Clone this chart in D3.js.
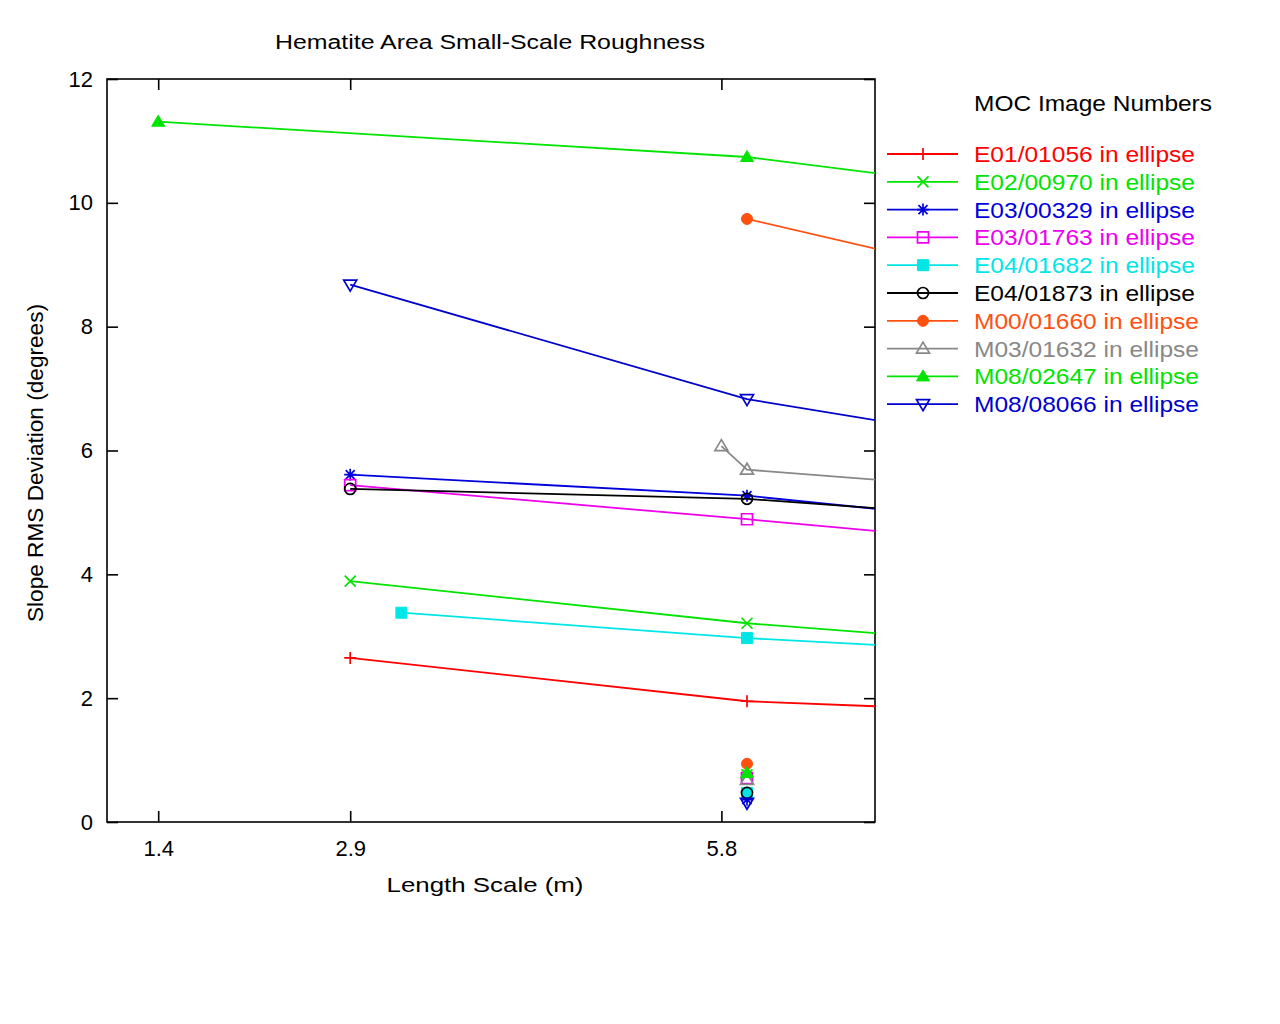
<!DOCTYPE html>
<html><head><meta charset="utf-8">
<script src="https://cdn.jsdelivr.net/npm/d3@7"></script>
<style>body{margin:0;background:#fff}svg{display:block}</style>
</head><body>
<svg id="c" width="1280" height="1024"></svg>
<script>
// ---- data ----
const chartTitle = "Hematite Area Small-Scale Roughness";
const xLabel = "Length Scale (m)";
const yLabel = "Slope RMS Deviation (degrees)";
const legendTitle = "MOC Image Numbers";
const xTicks = [1.4, 2.9, 5.8];
const yTicks = [0, 2, 4, 6, 8, 10, 12];

const seriesNames = ["E01/01056 in ellipse","E02/00970 in ellipse","E03/00329 in ellipse","E03/01763 in ellipse","E04/01682 in ellipse","E04/01873 in ellipse","M00/01660 in ellipse","M03/01632 in ellipse","M08/02647 in ellipse","M08/08066 in ellipse"];
const seriesColors = ["#ff0000","#00e400","#0000dd","#ee00ee","#00e6e6","#000000","#ff5010","#888888","#00e400","#0000cc"];
const seriesSymbols = ["plus","cross","star","square","squareFilled","circle","circleFilled","triangle","triangleFilled","triangleDown"];

// line series (length scale in m, slope RMS in degrees); last point lies beyond the plotted range
const e01_01056_x = [2.9, 6.0, 11.6], e01_01056_y = [2.65, 1.95, 1.50];
const e02_00970_x = [2.9, 6.0, 11.6], e02_00970_y = [3.89, 3.21, 2.31];
const e03_00329_x = [2.9, 6.0, 11.6], e03_00329_y = [5.61, 5.27, 4.09];
const e03_01763_x = [2.9, 6.0, 11.6], e03_01763_y = [5.44, 4.89, 3.83];
const e04_01682_x = [3.3, 6.0, 11.6], e04_01682_y = [3.38, 2.97, 2.35];
const e04_01873_x = [2.9, 6.0, 11.6], e04_01873_y = [5.38, 5.22, 4.38];
const m00_01660_x = [6.0, 11.6],      m00_01660_y = [9.74, 7.05];
const m03_01632_x = [5.8, 6.0, 11.6], m03_01632_y = [6.07, 5.69, 4.79];
const m08_02647_x = [1.4, 6.0, 11.6], m08_02647_y = [11.31, 10.74, 9.28];
const m08_08066_x = [2.9, 6.0, 11.6], m08_08066_y = [8.68, 6.83, 4.93];

// isolated points near the bottom (one per series, null = none)
const isolatedX = 6.0;
const isolatedY = [null, 0.76, 0.36, 0.71, 0.47, 0.47, 0.94, 0.68, 0.79, 0.31];

const seriesX = [e01_01056_x,e02_00970_x,e03_00329_x,e03_01763_x,e04_01682_x,e04_01873_x,m00_01660_x,m03_01632_x,m08_02647_x,m08_08066_x];
const seriesY = [e01_01056_y,e02_00970_y,e03_00329_y,e03_01763_y,e04_01682_y,e04_01873_y,m00_01660_y,m03_01632_y,m08_02647_y,m08_08066_y];

// ---- layout ----
const L = 107, R = 875, T = 79, B = 822;
const FONT = "'Liberation Sans', Arial, Helvetica, sans-serif";
const svg = d3.select("#c").style("font-family", FONT);
const x = d3.scaleLinear().domain([1, 7]).range([L, R]);
const y = d3.scaleLinear().domain([0, 12]).range([B, T]);

svg.append("defs").append("clipPath").attr("id","plot")
  .append("rect").attr("x",L).attr("y",T).attr("width",R-L).attr("height",B-T);

function symbolPath(type) {
  switch (type) {
    case "plus": return "M-6,0H6M0,-6V6";
    case "cross": return "M-5.5,-5.5L5.5,5.5M-5.5,5.5L5.5,-5.5";
    case "star": return "M-6,0H6M0,-6V6M-4.5,-4.5L4.5,4.5M-4.5,4.5L4.5,-4.5";
    case "square": case "squareFilled": return "M-5.5,-5.5H5.5V5.5H-5.5Z";
    case "circle": case "circleFilled": return "M5.5,0A5.5,5.5 0 1,1 -5.5,0A5.5,5.5 0 1,1 5.5,0Z";
    case "triangle": case "triangleFilled": return "M0,-6.5L6.5,4.5L-6.5,4.5Z";
    case "triangleDown": return "M0,6.5L6.5,-4.5L-6.5,-4.5Z";
  }
}
function drawSymbol(g, type, color, cx, cy) {
  const filled = /Filled$/.test(type);
  g.append("path").attr("d", symbolPath(type))
    .attr("transform", `translate(${cx},${cy})`)
    .attr("fill", filled ? color : "none")
    .attr("stroke", color).attr("stroke-width", filled ? 1 : 1.7);
}

// axes (gnuplot-style inward ticks, mirrored)
const axL = svg.append("g").attr("transform",`translate(${L},0)`)
  .call(d3.axisLeft(y).tickValues(yTicks).tickSize(-11).tickPadding(14).tickFormat(d3.format("d")));
const axR = svg.append("g").attr("transform",`translate(${R},0)`)
  .call(d3.axisRight(y).tickValues(yTicks).tickSize(-11).tickFormat(""));
const axB = svg.append("g").attr("transform",`translate(0,${B})`)
  .call(d3.axisBottom(x).tickValues(xTicks).tickSize(-11).tickPadding(18).tickFormat(d3.format(".1f")));
const axT = svg.append("g").attr("transform",`translate(0,${T})`)
  .call(d3.axisTop(x).tickValues(xTicks).tickSize(-11).tickFormat(""));
[axL, axR, axB, axT].forEach(a => {
  a.select(".domain").remove();
  a.selectAll("line").attr("stroke","#000").attr("stroke-width",1.6);
  a.selectAll("text").attr("fill","#000").style("font-size","22px").style("font-family",FONT);
});

// frame
svg.append("rect").attr("x",L).attr("y",T).attr("width",R-L).attr("height",B-T)
  .attr("fill","none").attr("stroke","#000").attr("stroke-width",1.6);

// series
const plot = svg.append("g").attr("clip-path","url(#plot)");
const line = d3.line().x(d => x(d[0])).y(d => y(d[1]));
seriesNames.forEach((name, i) => {
  const pts = seriesX[i].map((v, j) => [v, seriesY[i][j]]);
  const g = plot.append("g");
  g.append("path").attr("d", line(pts)).attr("fill","none")
    .attr("stroke", seriesColors[i]).attr("stroke-width", 1.8);
  pts.filter(p => p[0] <= 7).forEach(p => drawSymbol(g, seriesSymbols[i], seriesColors[i], x(p[0]), y(p[1])));
});
seriesNames.forEach((name, i) => {
  if (isolatedY[i] != null) drawSymbol(plot, seriesSymbols[i], seriesColors[i], x(isolatedX), y(isolatedY[i]));
});

// titles
svg.append("text").attr("x", 490).attr("y", 48.5).attr("text-anchor","middle")
  .style("font-size","20px").attr("textLength",430).attr("lengthAdjust","spacingAndGlyphs").text(chartTitle);
svg.append("text").attr("x", 485).attr("y", 892).attr("text-anchor","middle")
  .style("font-size","21px").attr("textLength",197).attr("lengthAdjust","spacingAndGlyphs").text(xLabel);
svg.append("text").attr("transform","translate(43,463) rotate(-90)").attr("text-anchor","middle")
  .style("font-size","22px").attr("textLength",318).attr("lengthAdjust","spacingAndGlyphs").text(yLabel);

// legend
const lg = svg.append("g");
lg.append("text").attr("x", 974).attr("y", 111).style("font-size","22px")
  .attr("textLength",238).attr("lengthAdjust","spacingAndGlyphs").text(legendTitle);
seriesNames.forEach((name, i) => {
  const cy = 154 + i * 27.8;
  lg.append("line").attr("x1",887).attr("x2",958).attr("y1",cy).attr("y2",cy)
    .attr("stroke",seriesColors[i]).attr("stroke-width",1.8);
  drawSymbol(lg, seriesSymbols[i], seriesColors[i], 923, cy);
  lg.append("text").attr("x",974).attr("y",cy+8).style("font-size","22px")
    .attr("fill",seriesColors[i]).attr("textLength", name.startsWith("M") ? 225 : 221)
    .attr("lengthAdjust","spacingAndGlyphs").text(name);
});
</script>
</body></html>
